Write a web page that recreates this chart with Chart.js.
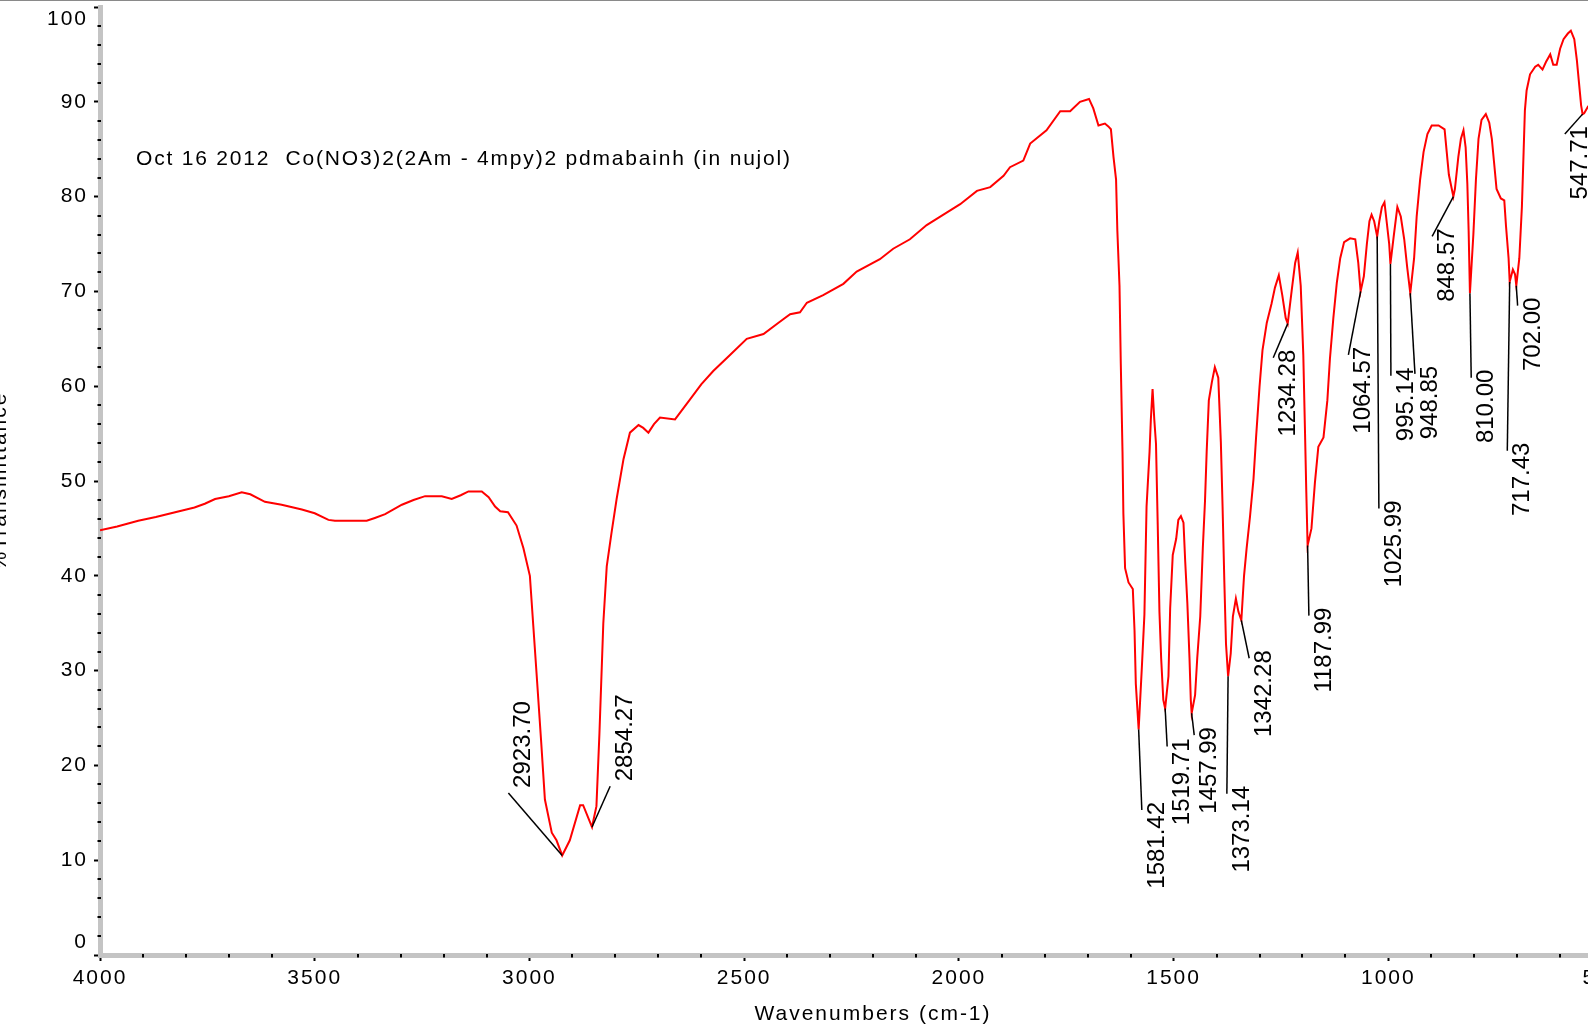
<!DOCTYPE html>
<html>
<head>
<meta charset="utf-8">
<style>
  html, body { margin: 0; padding: 0; background: #fff; overflow: hidden; width: 1588px; height: 1031px; }
  #marco { position: absolute; left: -16px; top: 0; width: 1720px; height: 1031px; }
</style>
<script src="https://cdn.jsdelivr.net/npm/chart.js@4.4.0/dist/chart.umd.min.js"></script>
</head>
<body>
<div id="marco"><canvas id="espectro" width="1720" height="1031"></canvas></div>
<script>
/* Espectro IR (numero de onda en cm-1, %T) */
var numerosOnda = [4000, 3960, 3911, 3870, 3825, 3780, 3756, 3732, 3700, 3670, 3650, 3616, 3577, 3530, 3500, 3468, 3453, 3379, 3360, 3336,
  3297, 3270, 3243, 3204, 3181, 3160, 3142, 3111, 3095, 3080, 3068, 3050, 3030, 3014, 2999, 2991, 2983, 2973, 2964, 2948,
  2937, 2923.7, 2906, 2882, 2875, 2854.3, 2844, 2837, 2828, 2820, 2809, 2797, 2781, 2766, 2746, 2735, 2723, 2710, 2696, 2661,
  2626, 2600, 2572, 2533, 2494, 2455, 2420, 2393, 2370, 2354, 2316, 2269, 2238, 2184, 2153, 2114, 2075, 2036, 1997, 1958,
  1927, 1896, 1881, 1850, 1834, 1796, 1764, 1741, 1718, 1697, 1687, 1675, 1660, 1652, 1646, 1640, 1634, 1631, 1626, 1623,
  1619, 1617, 1613, 1605, 1595, 1591, 1588, 1581.4, 1574, 1568, 1563, 1556, 1553, 1549, 1545, 1541, 1537, 1533, 1529, 1524,
  1519.7, 1512, 1508, 1502, 1494, 1489, 1483, 1477, 1473, 1468, 1463, 1460, 1458, 1450, 1445, 1438, 1432, 1427, 1423, 1418,
  1411, 1404, 1396, 1390, 1386, 1382, 1378, 1373.1, 1367, 1362, 1355, 1349, 1342.3, 1336, 1330, 1322, 1314, 1308, 1300, 1293,
  1283, 1272, 1264, 1255, 1247, 1239, 1234.3, 1225, 1217, 1211, 1204, 1198, 1194, 1191, 1188, 1179, 1171, 1163, 1151, 1142,
  1136, 1128, 1120, 1112, 1103, 1089, 1077, 1070, 1064.6, 1057, 1050, 1044, 1039, 1033, 1026, 1021, 1015, 1009, 1004, 998,
  995.1, 987, 979, 971, 963, 956, 948.9, 940, 934, 926, 918, 909, 899, 883, 869, 864, 859, 848.6, 845, 837,
  831, 825, 820, 816, 813, 810, 802, 796, 790, 783, 773, 765, 759, 754, 748, 738, 730, 726, 720, 717.4,
  710, 705, 702, 695, 689, 685, 682, 678, 670, 658, 651, 641, 633, 623, 616, 608, 600, 592, 582, 575,
  567, 561, 556, 551, 547.7, 544, 535, 528];
var transmitancia = [44.8, 45.2, 45.8, 46.2, 46.7, 47.2, 47.6, 48.1, 48.4, 48.8, 48.6, 47.8, 47.5, 47.0, 46.6, 45.9, 45.8, 45.8, 46.1, 46.5,
  47.5, 48.0, 48.4, 48.4, 48.1, 48.5, 48.9, 48.9, 48.3, 47.3, 46.8, 46.7, 45.3, 42.9, 40.0, 34.7, 29.4, 22.7, 16.4, 12.9,
  12.1, 10.5, 12.1, 15.8, 15.8, 13.5, 15.7, 23.4, 35.0, 41.0, 44.5, 48.1, 52.3, 55.1, 55.9, 55.6, 55.1, 56.0, 56.7, 56.5,
  58.6, 60.2, 61.6, 63.3, 65.0, 65.5, 66.7, 67.6, 67.8, 68.8, 69.6, 70.8, 72.1, 73.4, 74.5, 75.5, 77.0, 78.1, 79.2, 80.6,
  81.0, 82.2, 83.1, 83.8, 85.6, 87.0, 89.0, 89.0, 90.0, 90.3, 89.3, 87.5, 87.7, 87.4, 87.1, 84.2, 81.8, 76.4, 70.6, 62.4,
  53.1, 46.6, 40.8, 39.3, 38.6, 34.2, 28.6, 23.8, 30.3, 35.9, 47.3, 53.1, 56.5, 59.7, 56.5, 53.9, 45.4, 36.2, 31.3, 26.9,
  26.0, 29.4, 36.6, 42.2, 43.9, 45.9, 46.3, 45.6, 41.5, 37.1, 31.3, 26.9, 25.5, 27.4, 31.3, 35.7, 42.9, 47.8, 53.1, 58.5,
  60.4, 62.0, 60.9, 54.1, 47.3, 39.6, 32.8, 29.4, 31.8, 35.7, 37.6, 36.2, 35.3, 40.0, 42.9, 46.3, 50.2, 54.6, 59.9, 63.8,
  66.7, 68.7, 70.4, 71.7, 69.6, 67.2, 66.6, 70.1, 73.0, 74.1, 70.6, 63.3, 55.1, 48.8, 43.2, 45.0, 49.8, 53.6, 54.6, 58.5,
  62.9, 67.2, 70.9, 73.5, 75.2, 75.6, 75.5, 73.0, 70.0, 71.6, 75.0, 77.4, 78.1, 77.4, 75.8, 77.4, 78.9, 79.4, 77.4, 75.0,
  72.9, 76.0, 78.9, 77.9, 75.5, 72.5, 69.8, 73.5, 77.9, 81.8, 84.7, 86.6, 87.5, 87.5, 87.1, 84.7, 82.3, 80.0, 80.8, 84.2,
  86.1, 87.0, 85.2, 81.3, 76.4, 69.8, 76.0, 81.8, 86.1, 88.1, 88.7, 87.8, 86.1, 83.7, 80.8, 79.8, 79.6, 76.9, 73.5, 71.0,
  72.3, 71.8, 70.6, 73.5, 78.9, 84.7, 89.1, 91.2, 92.9, 93.7, 93.9, 93.4, 94.2, 95.0, 93.9, 93.9, 95.6, 96.6, 97.2, 97.5,
  96.6, 94.4, 92.0, 89.6, 88.7, 88.8, 89.5, 89.5];

/* Picos marcados */
var picosOnda = [2923.70, 2854.27, 1581.42, 1519.71, 1457.99, 1373.14, 1342.28, 1234.28, 1187.99, 1064.57, 1025.99, 995.14, 948.85, 848.57, 810.00, 717.43, 702.00, 547.71];
var picosT = [10.5, 13.5, 23.8, 26.0, 25.5, 29.4, 35.3, 66.6, 43.2, 70.0, 75.8, 72.9, 69.8, 80.0, 69.8, 71.0, 70.6, 88.7];
// extremo de la linea de cada etiqueta (en unidades del grafico)
var finEtiqueta = [[3049, 17.1], [2812, 17.8], [1574, 15.3], [1515, 22.0], [1452, 23.2], [1376, 17.0], [1324, 31.3], [1268, 63.0], [1185, 35.8],
  [1093, 63.3], [1022, 47.1], [994, 61.1], [938, 61.3], [898, 75.8], [807, 60.9], [723, 53.2], [699, 68.5], [589, 86.6]];

var ticksX = [4000, 3500, 3000, 2500, 2000, 1500, 1000, 500];
var ticksY = [0, 10, 20, 30, 40, 50, 60, 70, 80, 90, 100];

var nota = 'Oct 16 2012  Co(NO3)2(2Am - 4mpy)2 pdmabainh (in nujol)';
var notaPos = [3916, 83.9];

var fuente = "'Liberation Sans', Arial, sans-serif";

var puntos = numerosOnda.map(function (w, i) { return { x: w, y: transmitancia[i] }; });

var extras = {
  id: 'extras',
  beforeDraw: function (chart) {
    chart.ctx.letterSpacing = '2px';
  },
  afterDatasetsDraw: function (chart) {
    var ctx = chart.ctx, sx = chart.scales.x, sy = chart.scales.y;
    ctx.save();
    ctx.strokeStyle = '#000';
    ctx.lineWidth = 1.5;
    ctx.fillStyle = '#000';
    ctx.letterSpacing = '0px';
    ctx.font = '24px ' + fuente;
    picosOnda.forEach(function (w, i) {
      var px = sx.getPixelForValue(w), py = sy.getPixelForValue(picosT[i]);
      var ex = sx.getPixelForValue(finEtiqueta[i][0]), ey = sy.getPixelForValue(finEtiqueta[i][1]);
      var arriba = finEtiqueta[i][1] > picosT[i];
      ctx.beginPath();
      ctx.moveTo(px, py);
      ctx.lineTo(ex, ey);
      ctx.stroke();
      ctx.save();
      ctx.translate(ex + 22, arriba ? ey - 5 : ey - 8);
      ctx.rotate(-Math.PI / 2);
      ctx.textAlign = arriba ? 'left' : 'right';
      ctx.textBaseline = 'alphabetic';
      ctx.fillText(w.toFixed(2), 0, 0);
      ctx.restore();
    });
    ctx.restore();
  },
  afterDraw: function (chart) {
    var ctx = chart.ctx, sx = chart.scales.x, sy = chart.scales.y, a = chart.chartArea;
    ctx.save();
    // marcas menores
    ctx.strokeStyle = '#000';
    ctx.lineWidth = 2;
    for (var v = 400; v <= 4000; v += 100) {
      if (v % 500 === 0) continue;
      var px = Math.round(sx.getPixelForValue(v));
      ctx.beginPath(); ctx.moveTo(px, a.bottom - 1); ctx.lineTo(px, a.bottom + 2.5); ctx.stroke();
    }
    for (var t = 0; t <= 100; t += 2) {
      if (t % 10 === 0) continue;
      var py = Math.round(sy.getPixelForValue(t));
      ctx.beginPath(); ctx.moveTo(a.left - 2.5, py); ctx.lineTo(a.left + 1, py); ctx.stroke();
    }
    // linea del marco superior
    ctx.strokeStyle = '#8a8a8a';
    ctx.lineWidth = 2;
    ctx.beginPath(); ctx.moveTo(0, 0); ctx.lineTo(chart.width, 0); ctx.stroke();
    // nota
    ctx.letterSpacing = '1.8px';
    ctx.fillStyle = '#000';
    ctx.font = '21px ' + fuente;
    ctx.textAlign = 'left';
    ctx.textBaseline = 'middle';
    ctx.fillText(nota, sx.getPixelForValue(notaPos[0]), sy.getPixelForValue(notaPos[1]));
    ctx.restore();
  }
};

var grafico = new Chart(document.getElementById('espectro').getContext('2d'), {
  type: 'line',
  data: {
    datasets: [{
      label: '%T',
      data: puntos,
      borderColor: '#ff0000',
      borderWidth: 2,
      pointRadius: 0,
      tension: 0,
      fill: false
    }]
  },
  options: {
    responsive: false,
    animation: false,
    events: [],
    layout: { padding: { left: 0, top: 7, right: 58, bottom: 0 } },
    plugins: { legend: { display: false }, tooltip: { enabled: false } },
    scales: {
      x: {
        type: 'linear',
        reverse: true,
        min: 400,
        max: 4000,
        afterBuildTicks: function (axis) { axis.ticks = ticksX.map(function (v) { return { value: v }; }); },
        afterFit: function (axis) {
          axis.height = 76;
          axis.paddingLeft = 0; axis.paddingRight = 0;
        },
        border: { color: '#c4c4c4', width: 5 },
        grid: { drawOnChartArea: false, drawTicks: true, tickLength: 6, tickColor: '#000', tickWidth: 2 },
        ticks: {
          color: '#000', font: { family: fuente, size: 21 }, padding: 5, maxRotation: 0, autoSkip: false,
          callback: function (v) { return String(v); }
        },
        title: { display: true, text: 'Wavenumbers (cm-1)', color: '#000', font: { family: fuente, size: 21 } }
      },
      y: {
        min: 0,
        max: 100,
        afterBuildTicks: function (axis) { axis.ticks = ticksY.map(function (v) { return { value: v }; }); },
        afterFit: function (axis) {
          axis.width = 116;
          axis.paddingTop = 0; axis.paddingBottom = 0;
        },
        border: { color: '#c4c4c4', width: 5 },
        grid: { drawOnChartArea: false, drawTicks: true, tickLength: 6, tickColor: '#000', tickWidth: 2 },
        ticks: {
          color: '#000',
          font: { family: fuente, size: 21 },
          padding: 6,
          callback: function (v) {
            if (v === ticksY[ticksY.length - 1]) return ['', String(v)];
            if (v === ticksY[0]) return [String(v), ''];
            return String(v);
          }
        },
        title: { display: true, text: '%Transmittance', color: '#000', font: { family: fuente, size: 21 } }
      }
    }
  },
  plugins: [extras]
});
</script>
</body>
</html>
